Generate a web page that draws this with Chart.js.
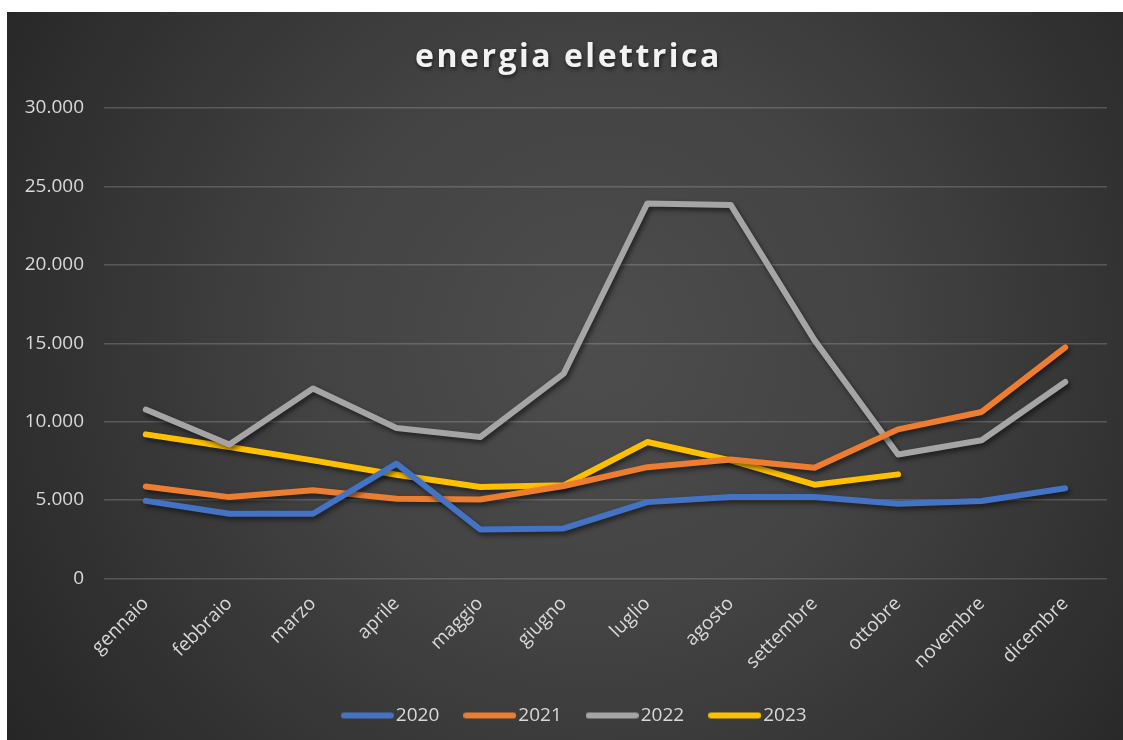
<!DOCTYPE html>
<html>
<head>
<meta charset="utf-8">
<script src="https://cdn.jsdelivr.net/npm/chart.js@4"></script>
<style>
  html, body { margin: 0; padding: 0; background: #ffffff; }
  #wrap { position: absolute; left: 7px; top: 12px; width: 1116px; height: 728px; }
  canvas { display: block; }
</style>
</head>
<body>
<div id="wrap"><canvas id="c" width="1116" height="728"></canvas></div>
<script>
const months = ['gennaio','febbraio','marzo','aprile','maggio','giugno','luglio','agosto','settembre','ottobre','novembre','dicembre'];
const seriesNames = ['2020','2021','2022','2023'];
const v2020 = [4950, 4130, 4130, 7320, 3130, 3190, 4870, 5190, 5190, 4770, 4940, 5760];
const v2021 = [5870, 5190, 5620, 5090, 5040, 5900, 7100, 7590, 7060, 9510, 10620, 14740];
const v2022 = [10770, 8550, 12110, 9600, 9020, 13060, 23910, 23810, 15200, 7910, 8810, 12530];
const v2023 = [9190, 8380, 7530, 6620, 5830, 5940, 8700, 7530, 5980, 6640, null, null];
const colors = ['#4472C4', '#ED7D31', '#A5A5A5', '#FFC000'];
const yTicks = [0, 5000, 10000, 15000, 20000, 25000, 30000];
const titleText = 'energia elettrica';

function fmt(v) { return String(v).replace(/\B(?=(\d{3})+(?!\d))/g, '.'); }

function legendImage(color) {
  const c = document.createElement('canvas');
  c.width = 53; c.height = 10;
  const x = c.getContext('2d');
  x.strokeStyle = color;
  x.lineWidth = 6;
  x.lineCap = 'round';
  x.beginPath();
  x.moveTo(3, 5);
  x.lineTo(50, 5);
  x.stroke();
  return c;
}
const legendImgs = colors.map(legendImage);

const bgPlugin = {
  id: 'bg',
  beforeDraw(chart) {
    const ctx = chart.ctx;
    const w = chart.width, h = chart.height;
    ctx.save();
    const g = ctx.createRadialGradient(590, 330, 0, 590, 330, 720);
    g.addColorStop(0, '#4d4d4d');
    g.addColorStop(0.4, '#434343');
    g.addColorStop(1, '#252525');
    ctx.fillStyle = g;
    ctx.fillRect(0, 0, w, h);
    ctx.restore();
    if (chart.titleBlock && !chart.titleBlock._wrapped) {
      const tb = chart.titleBlock;
      const orig = tb.draw.bind(tb);
      tb.draw = function() {
        const c = this.ctx;
        c.save();
        c.translate(-9, 0);
        c.letterSpacing = '2.5px';
        c.shadowColor = 'rgba(0,0,0,0.6)';
        c.shadowBlur = 4;
        c.shadowOffsetX = 1;
        c.shadowOffsetY = 2;
        orig();
        c.restore();
      };
      tb._wrapped = true;
    }
  },
  beforeDatasetsDraw(chart) {
    const ctx = chart.ctx;
    ctx.save();
    ctx.shadowColor = 'rgba(0,0,0,0.55)';
    ctx.shadowBlur = 5;
    ctx.shadowOffsetX = 2;
    ctx.shadowOffsetY = 3;
  },
  afterDatasetsDraw(chart) {
    chart.ctx.restore();
  }
};

const allValues = [v2020, v2021, v2022, v2023];
const datasets = seriesNames.map((n, i) => ({
  label: n,
  data: allValues[i],
  borderColor: colors[i],
  backgroundColor: colors[i],
  borderWidth: 6,
  borderCapStyle: 'round',
  borderJoinStyle: 'round',
  pointRadius: 0,
  pointHoverRadius: 0,
  tension: 0,
  fill: false,
  spanGaps: false
}));

new Chart(document.getElementById('c'), {
  type: 'line',
  data: { labels: months, datasets },
  plugins: [bgPlugin],
  options: {
    responsive: false,
    animation: false,
    events: [],
    layout: { padding: { left: 41, right: 16, top: 0, bottom: 5 } },
    plugins: {
      tooltip: { enabled: false },
      title: {
        display: true,
        text: titleText,
        color: '#f2f2f2',
        font: { family: 'Open Sans', size: 32, weight: 'bold', lineHeight: 1.2 },
        padding: { top: 27, bottom: 30.6 }
      },
      legend: {
        position: 'bottom',
        labels: {
          usePointStyle: true,
          pointStyleWidth: 38,
          boxHeight: 10,
          padding: 31.5,
          color: '#d9d9d9',
          font: { family: 'Open Sans', size: 19 },
          generateLabels(chart) {
            const items = Chart.defaults.plugins.legend.labels.generateLabels(chart);
            items.forEach((it) => { it.pointStyle = legendImgs[it.datasetIndex]; });
            return items;
          }
        }
      }
    },
    scales: {
      x: {
        offset: true,
        grid: { display: false, drawTicks: false },
        border: { display: false },
        ticks: {
          color: '#d9d9d9',
          font: { family: 'Open Sans', size: 19 },
          minRotation: 45,
          maxRotation: 45,
          autoSkip: false,
          padding: 14
        },
        afterFit(s) { s.height = 96; }
      },
      y: {
        min: 0,
        max: 30000,
        afterBuildTicks(s) { s.ticks = yTicks.map(v => ({ value: v })); },
        grid: { color: 'rgba(217,217,217,0.22)', lineWidth: 1.5, drawTicks: false },
        border: { display: false },
        ticks: {
          color: '#d9d9d9',
          font: { family: 'Open Sans', size: 19 },
          padding: 20,
          callback: (v) => fmt(v)
        },
        afterFit(s) { s.width = 56; s._computeLabelArea = () => undefined; }
      }
    }
  }
});
</script>
</body>
</html>
